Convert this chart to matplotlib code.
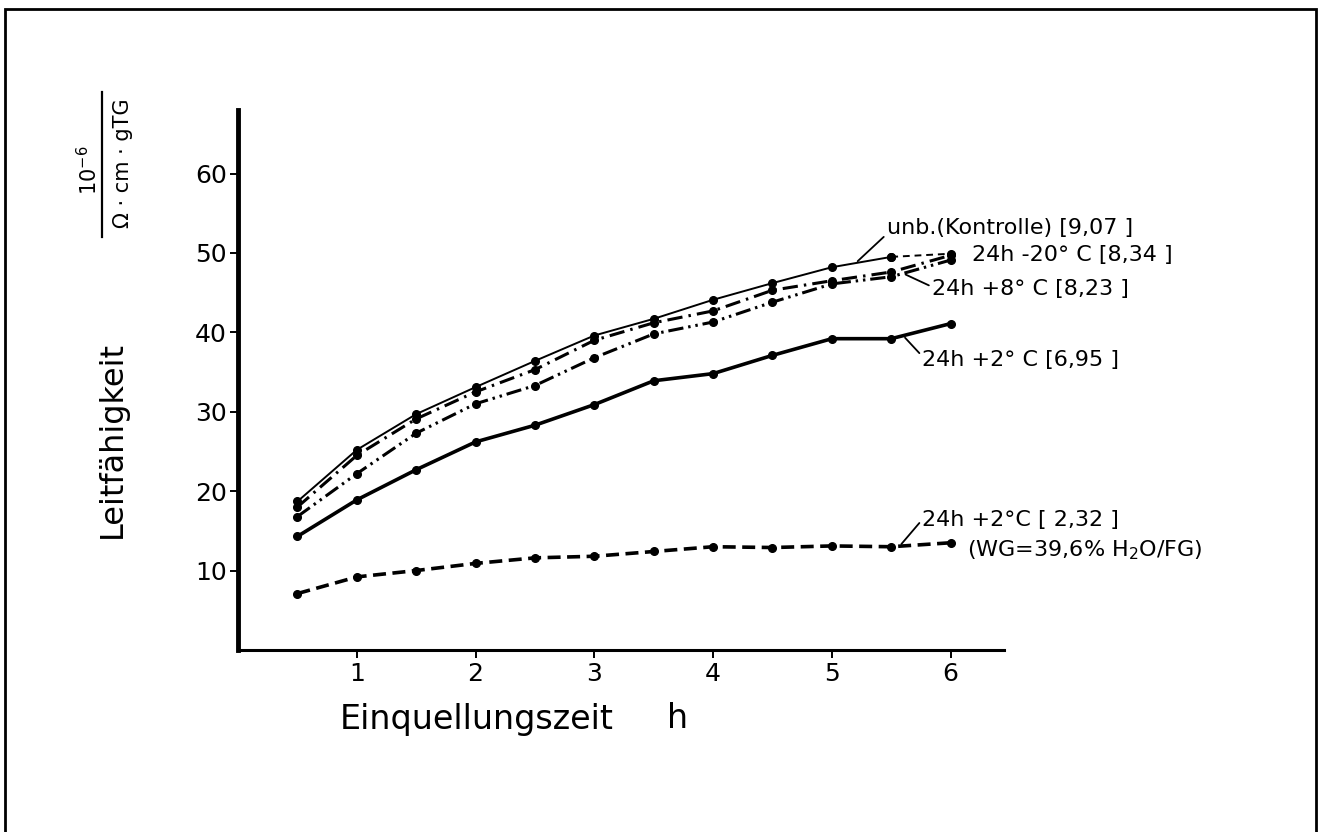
import numpy as np
import matplotlib.pyplot as plt
from matplotlib.patches import Rectangle
from matplotlib.lines import Line2D

plt.rcParams['font.family'] = ['DejaVu Sans']
plt.rcParams['mathtext.default'] = 'regular'

# Einquellungszeit in h
hours = [0.5, 1, 1.5, 2, 2.5, 3, 3.5, 4, 4.5, 5, 5.5, 6]

# Leitfaehigkeit, 10^-6 / (Ohm cm gTG)
kontrolle = [18.7, 25.2, 29.7, 33.1, 36.4, 39.6, 41.7, 44.1, 46.2, 48.2, 49.5, 49.9]
minus20 = [18.0, 24.5, 29.1, 32.5, 35.3, 39.0, 41.2, 42.7, 45.3, 46.5, 47.6, 49.7]
plus8 = [16.8, 22.2, 27.3, 31.0, 33.3, 36.8, 39.8, 41.3, 43.8, 46.1, 47.0, 49.1]
plus2 = [14.3, 18.9, 22.7, 26.2, 28.3, 30.9, 33.9, 34.8, 37.1, 39.2, 39.2, 41.1]
plus2_wg = [7.1, 9.2, 10.0, 10.9, 11.6, 11.8, 12.4, 13.0, 12.9, 13.1, 13.0, 13.5]

fig = plt.figure(figsize=(13.21, 8.32), dpi=100)
ax = fig.add_axes([0.1802, 0.2188, 0.5799, 0.649])

mk = dict(marker='o', markersize=5.5, color='black')

# Kontrolle: thin solid, last interval dashed
ax.plot(hours[:-1], kontrolle[:-1], lw=1.4, linestyle='-', **mk)
ax.plot(hours[-2:], kontrolle[-2:], lw=1.4, linestyle=(0, (3.5, 2.5)), **mk)
ax.plot(hours, minus20, lw=2.2, linestyle=(0, (5, 2, 0.8, 2)), **mk)
ax.plot(hours, plus8, lw=2.2, linestyle=(0, (5, 1.6, 0.8, 1.6, 0.8, 1.6)), **mk)
ax.plot(hours, plus2, lw=2.6, linestyle='-', **mk)
ax.plot(hours, plus2_wg, lw=2.6, linestyle=(0, (3.6, 1.8)), **mk)

ax.set_xlim(0, 6.45)
ax.set_ylim(0, 68)
ax.set_xticks([1, 2, 3, 4, 5, 6])
ax.set_yticks([10, 20, 30, 40, 50, 60])
ax.tick_params(axis='both', direction='out', length=6, width=1.4, labelsize=18)
ax.tick_params(axis='x', pad=3)
ax.tick_params(axis='y', pad=2)
ax.spines['top'].set_visible(False)
ax.spines['right'].set_visible(False)
ax.spines['left'].set_linewidth(3.5)
ax.spines['bottom'].set_linewidth(2.2)

# curve labels with leader lines
lead = dict(arrowstyle='-', lw=1.3, color='black', shrinkA=0, shrinkB=2)
fs = 16
ax.annotate('unb.(Kontrolle) [9,07 ]', xy=(5.2, np.interp(5.2, hours, kontrolle)),
            xytext=(5.46, 53.1), fontsize=fs, ha='left', va='center',
            arrowprops=dict(lead, relpos=(0, 0.2)))
ax.text(6.18, minus20[-1], '24h -20° C [8,34 ]', fontsize=fs, ha='left', va='center')
ax.annotate('24h +8° C [8,23 ]', xy=(5.6, np.interp(5.6, hours, plus8)),
            xytext=(5.84, 45.5), fontsize=fs, ha='left', va='center',
            arrowprops=dict(lead, relpos=(0, 0.6)))
ax.annotate('24h +2° C [6,95 ]', xy=(5.6, np.interp(5.6, hours, plus2)),
            xytext=(5.76, 36.5), fontsize=fs, ha='left', va='center',
            arrowprops=dict(lead, relpos=(0, 0.7)))
ax.annotate('24h +2°C [ 2,32 ]', xy=(5.57, np.interp(5.57, hours, plus2_wg)),
            xytext=(5.76, 16.4), fontsize=fs, ha='left', va='center',
            arrowprops=dict(lead, relpos=(0, 0.5)))
ax.text(6.14, 12.6, '(WG=39,6% H$_2$O/FG)', fontsize=fs, ha='left', va='center')

# axis titles
fig.text(112 / 1321, 1 - 440 / 832, 'Leitfähigkeit', rotation=90, fontsize=23,
         ha='center', va='center')
fig.text(340 / 1321, 1 - 719 / 832, 'Einquellungszeit', fontsize=24,
         ha='left', va='center')
fig.text(678 / 1321, 1 - 719 / 832, 'h', fontsize=24, ha='center', va='center')

# unit as a rotated fraction
fig.text(89 / 1321, 1 - 170 / 832, '10$^{-6}$', rotation=90, fontsize=15,
         ha='center', va='center')
fig.add_artist(Line2D([102 / 1321, 102 / 1321], [1 - 92 / 832, 1 - 237 / 832],
                      lw=1.6, color='black'))
fig.text(123 / 1321, 1 - 163 / 832, 'Ω · cm · gTG', rotation=90, fontsize=15,
         ha='center', va='center')

# frame around the whole figure
fig.add_artist(Rectangle((5 / 1321, -0.05), 1311 / 1321, 1.05 - 9 / 832,
                         transform=fig.transFigure, fill=False, lw=2,
                         edgecolor='black'))

fig.savefig('out.png', dpi=100)
